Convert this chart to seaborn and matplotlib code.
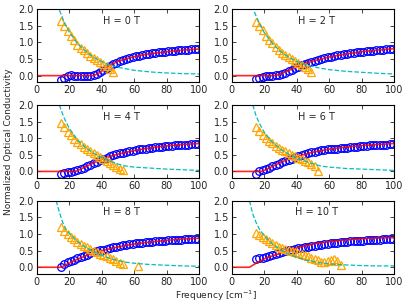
import numpy as np
import pandas as pd
import matplotlib
matplotlib.use("Agg")
import matplotlib.pyplot as plt
import seaborn as sns


# ==========================================================
# Data
# ==========================================================

fields = ["0", "2", "4", "6", "8", "10"]

# measured conductivity (open circles), sampled every 2 cm^-1
circ_freq = np.arange(15, 100, 2)

circ_0T = [-0.14, -0.06, 0.00, 0.01, 0.00, -0.01, -0.02, -0.02, -0.01, 0.00, 0.02,
           0.06, 0.12, 0.18, 0.24, 0.30, 0.35, 0.39, 0.43, 0.47, 0.50, 0.53,
           0.56, 0.58, 0.60, 0.62, 0.64, 0.66, 0.67, 0.68, 0.70, 0.71, 0.72,
           0.73, 0.74, 0.75, 0.76, 0.77, 0.78, 0.78, 0.79, 0.80, 0.81]
circ_2T = [-0.11, -0.07, -0.03, -0.01, 0.00, 0.00, 0.01, 0.03, 0.06, 0.09, 0.13,
           0.17, 0.22, 0.27, 0.31, 0.35, 0.39, 0.42, 0.45, 0.48, 0.50, 0.52,
           0.55, 0.57, 0.59, 0.61, 0.63, 0.64, 0.66, 0.67, 0.69, 0.70, 0.71,
           0.72, 0.73, 0.74, 0.75, 0.76, 0.77, 0.78, 0.79, 0.80, 0.80]
circ_4T = [-0.08, -0.05, -0.03, -0.02, 0.00, 0.03, 0.07, 0.11, 0.15, 0.20, 0.25,
           0.29, 0.34, 0.38, 0.41, 0.45, 0.48, 0.51, 0.54, 0.56, 0.58, 0.60,
           0.62, 0.64, 0.66, 0.67, 0.69, 0.70, 0.72, 0.73, 0.74, 0.75, 0.76,
           0.77, 0.78, 0.79, 0.80, 0.80, 0.81, 0.81, 0.82, 0.82, 0.83]
circ_6T = [-0.08, 0.00, 0.04, 0.07, 0.11, 0.15, 0.19, 0.23, 0.27, 0.31, 0.35,
           0.38, 0.42, 0.45, 0.49, 0.52, 0.54, 0.57, 0.59, 0.61, 0.63, 0.64,
           0.66, 0.67, 0.68, 0.69, 0.70, 0.71, 0.72, 0.73, 0.74, 0.75, 0.76,
           0.77, 0.78, 0.79, 0.79, 0.80, 0.80, 0.81, 0.81, 0.82, 0.82]
circ_8T = [0.02, 0.10, 0.15, 0.19, 0.23, 0.27, 0.31, 0.35, 0.38, 0.42, 0.45,
           0.48, 0.51, 0.53, 0.56, 0.58, 0.60, 0.62, 0.64, 0.66, 0.67, 0.69,
           0.70, 0.72, 0.73, 0.74, 0.75, 0.76, 0.77, 0.78, 0.79, 0.79, 0.80,
           0.81, 0.81, 0.82, 0.83, 0.83, 0.84, 0.84, 0.85, 0.85, 0.86]
circ_10T = [0.24, 0.27, 0.29, 0.32, 0.35, 0.38, 0.41, 0.44, 0.46, 0.49, 0.51,
            0.53, 0.55, 0.57, 0.59, 0.61, 0.62, 0.64, 0.65, 0.67, 0.68, 0.70,
            0.71, 0.72, 0.73, 0.74, 0.75, 0.76, 0.77, 0.78, 0.78, 0.79, 0.80,
            0.80, 0.81, 0.82, 0.82, 0.83, 0.83, 0.84, 0.84, 0.84, 0.85]

# fit (red line)
fit_x_0T = [0, 35, 38, 41, 44, 47, 50, 55, 60, 65, 70, 80, 90, 100]
fit_y_0T = [0, 0, 0.07, 0.17, 0.27, 0.36, 0.43, 0.51, 0.57, 0.62, 0.66, 0.72, 0.77, 0.80]
fit_x_2T = [0, 27, 30, 35, 40, 45, 50, 60, 70, 80, 90, 100]
fit_y_2T = [0, 0, 0.05, 0.15, 0.28, 0.37, 0.44, 0.56, 0.65, 0.72, 0.77, 0.81]
fit_x_4T = [0, 24, 27, 30, 35, 40, 45, 50, 60, 70, 80, 90, 100]
fit_y_4T = [0, 0, 0.07, 0.14, 0.26, 0.36, 0.45, 0.52, 0.63, 0.71, 0.77, 0.81, 0.84]
fit_x_6T = [0, 18, 20, 25, 30, 35, 40, 50, 60, 70, 80, 90, 100]
fit_y_6T = [0, 0, 0.03, 0.15, 0.27, 0.37, 0.45, 0.58, 0.67, 0.73, 0.78, 0.81, 0.84]
fit_x_8T = [0, 15, 20, 25, 30, 35, 40, 50, 60, 70, 80, 90, 100]
fit_y_8T = [0, 0, 0.12, 0.24, 0.34, 0.43, 0.50, 0.61, 0.70, 0.76, 0.81, 0.85, 0.87]
fit_x_10T = [0, 11, 15, 20, 25, 30, 40, 50, 60, 70, 80, 90, 100]
fit_y_10T = [0, 0, 0.12, 0.25, 0.34, 0.42, 0.58, 0.70, 0.77, 0.82, 0.86, 0.88, 0.89]

# second quantity (open triangles)
tri_x_0T = np.arange(15, 48, 2)
tri_y_0T = [1.65, 1.50, 1.35, 1.20, 1.06, 0.93, 0.84, 0.76, 0.68, 0.60, 0.53,
            0.46, 0.40, 0.34, 0.28, 0.21, 0.10]
tri_x_2T = np.arange(15, 50, 2)
tri_y_2T = [1.62, 1.48, 1.36, 1.20, 1.08, 0.97, 0.87, 0.77, 0.69, 0.62, 0.56,
            0.50, 0.44, 0.38, 0.32, 0.26, 0.20, 0.10]
tri_x_4T = np.arange(15, 54, 2)
tri_y_4T = [1.45, 1.33, 1.20, 1.09, 0.99, 0.90, 0.82, 0.74, 0.67, 0.61, 0.55,
            0.49, 0.43, 0.37, 0.31, 0.25, 0.19, 0.13, 0.08, 0.03]
tri_x_6T = np.arange(15, 54, 2)
tri_y_6T = [1.35, 1.22, 1.11, 1.00, 0.92, 0.85, 0.78, 0.71, 0.65, 0.60, 0.55,
            0.50, 0.45, 0.41, 0.37, 0.32, 0.28, 0.23, 0.15, 0.02]
tri_x_8T = np.r_[np.arange(15, 54, 2), 62]
tri_y_8T = [1.22, 1.10, 1.00, 0.92, 0.84, 0.77, 0.71, 0.65, 0.60, 0.55, 0.50,
            0.46, 0.41, 0.37, 0.33, 0.29, 0.25, 0.20, 0.14, 0.09, 0.04]
tri_x_10T = np.arange(15, 68, 2)
tri_y_10T = [1.02, 0.96, 0.90, 0.84, 0.78, 0.72, 0.67, 0.62, 0.58, 0.55, 0.52,
             0.49, 0.46, 0.43, 0.40, 0.37, 0.33, 0.29, 0.25, 0.21, 0.17, 0.16,
             0.18, 0.21, 0.24, 0.20, 0.08]

# model curve (cyan dashed)
dash_x_0T = [14, 15, 17, 20, 25, 30, 35, 40, 45, 50, 60, 70, 80, 90, 100]
dash_y_0T = [1.97, 1.85, 1.60, 1.32, 0.97, 0.74, 0.55, 0.42, 0.32, 0.25, 0.16, 0.11, 0.08, 0.06, 0.05]
dash_x_2T = [14, 15, 17, 20, 25, 30, 35, 40, 45, 50, 55, 60, 70, 80, 90, 100]
dash_y_2T = [1.92, 1.80, 1.58, 1.30, 0.97, 0.73, 0.56, 0.43, 0.34, 0.27, 0.22, 0.18, 0.13, 0.10, 0.07, 0.05]
dash_x_4T = [14, 15, 17, 20, 25, 30, 35, 40, 45, 50, 55, 60, 70, 80, 90, 100]
dash_y_4T = [2.00, 1.85, 1.60, 1.30, 0.95, 0.72, 0.55, 0.42, 0.31, 0.22, 0.16, 0.13, 0.10, 0.07, 0.05, 0.03]
dash_x_6T = [13, 15, 17, 20, 25, 30, 35, 40, 45, 50, 55, 60, 70, 80, 90, 100]
dash_y_6T = [2.00, 1.68, 1.45, 1.18, 0.88, 0.67, 0.52, 0.40, 0.31, 0.23, 0.16, 0.13, 0.09, 0.07, 0.05, 0.03]
dash_x_8T = [12, 14, 16, 18, 20, 25, 30, 35, 40, 45, 50, 55, 60, 70, 80, 90, 100]
dash_y_8T = [2.00, 1.65, 1.35, 1.15, 1.02, 0.78, 0.60, 0.47, 0.36, 0.27, 0.20, 0.15, 0.12, 0.08, 0.06, 0.04, 0.03]
dash_x_10T = [11, 13, 15, 17, 20, 25, 30, 35, 40, 45, 50, 55, 60, 70, 80, 90, 100]
dash_y_10T = [2.00, 1.60, 1.35, 1.15, 0.95, 0.70, 0.53, 0.40, 0.30, 0.22, 0.17, 0.13, 0.10, 0.07, 0.05, 0.04, 0.04]


panels = [
    (circ_0T, fit_x_0T, fit_y_0T, tri_x_0T, tri_y_0T, dash_x_0T, dash_y_0T),
    (circ_2T, fit_x_2T, fit_y_2T, tri_x_2T, tri_y_2T, dash_x_2T, dash_y_2T),
    (circ_4T, fit_x_4T, fit_y_4T, tri_x_4T, tri_y_4T, dash_x_4T, dash_y_4T),
    (circ_6T, fit_x_6T, fit_y_6T, tri_x_6T, tri_y_6T, dash_x_6T, dash_y_6T),
    (circ_8T, fit_x_8T, fit_y_8T, tri_x_8T, tri_y_8T, dash_x_8T, dash_y_8T),
    (circ_10T, fit_x_10T, fit_y_10T, tri_x_10T, tri_y_10T, dash_x_10T, dash_y_10T),
]


# ==========================================================
# Figure
# ==========================================================

sns.set_style("ticks")
plt.rcParams["font.family"] = ["DejaVu Sans"]

fig, axes = plt.subplots(3, 2, figsize=(4.07, 3.05), dpi=100)
fig.subplots_adjust(left=0.090, right=0.969, top=0.970, bottom=0.102,
                    wspace=0.198, hspace=0.31)

for ax, field, (circ, fx, fy, tx, ty, dx, dy) in zip(axes.flat, fields, panels):

    sns.lineplot(x=circ_freq, y=circ, ax=ax, linestyle="none", marker="o",
                 markersize=5.5, mfc="none", mec="blue", mew=0.9)

    sns.lineplot(x=fx, y=fy, ax=ax, color="red", lw=1.2, alpha=0.85)

    sns.lineplot(x=tx, y=ty, ax=ax, linestyle="none", marker="^",
                 markersize=6, mfc="none", mec="orange", mew=0.9)

    sns.lineplot(x=dx, y=dy, ax=ax, color="c", lw=0.9, linestyle="--",
                 dashes=(5, 4))

    ax.set_xlim(0, 100)
    ax.set_ylim(-0.2, 2.0)
    ax.set_xticks([0, 20, 40, 60, 80, 100])
    ax.set_yticks([0.0, 0.5, 1.0, 1.5, 2.0])
    ax.set_yticklabels(["0.0", "0.5", "1.0", "1.5", "2.0"])
    ax.tick_params(direction="in", top=True, right=True, labelsize=7,
                   length=3, width=0.6, pad=2)
    for s in ax.spines.values():
        s.set_linewidth(0.8)
        s.set_color("black")
    ax.set_xlabel("")
    ax.set_ylabel("")

    ax.text(0.52, 0.84, "H = " + field + " T", transform=ax.transAxes,
            ha="center", va="center", fontsize=7)

fig.text(0.02, 0.536, "Normalized Optical Conductivity", rotation=90,
         ha="center", va="center", fontsize=6.5)
fig.text(0.53, 0.03, "Frequency [cm$^{-1}$]", ha="center", va="center",
         fontsize=6.5)

plt.savefig("out.png", dpi=100)
plt.close()
